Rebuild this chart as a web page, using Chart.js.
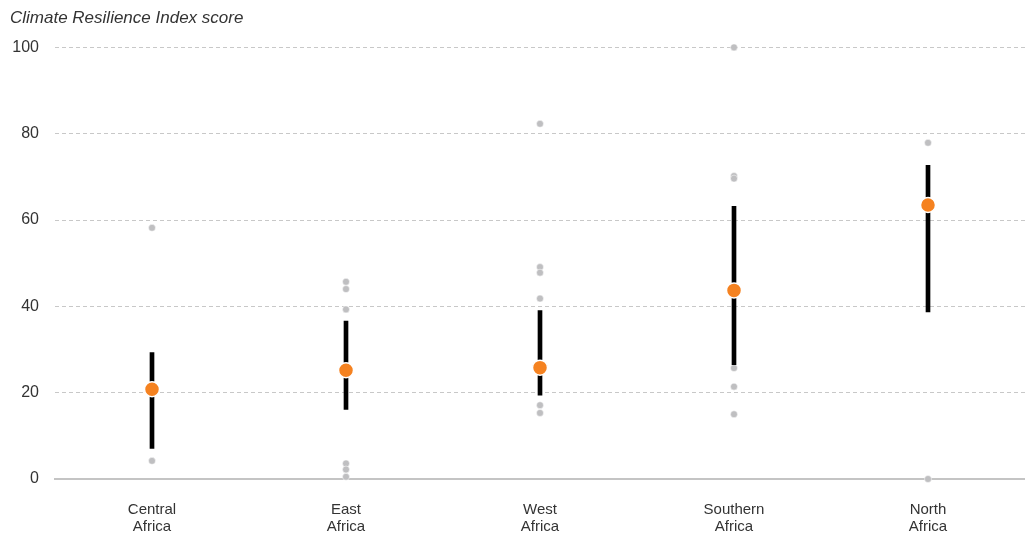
<!DOCTYPE html>
<html>
<head>
<meta charset="utf-8">
<script src="https://cdn.jsdelivr.net/npm/chart.js@4"></script>
<style>
  html, body { margin: 0; padding: 0; background: #fff; }
  #wrap { width: 1025px; height: 537px; }
</style>
</head>
<body>
<div id="wrap"><canvas id="chart"></canvas></div>
<script>
const categories = ['Central Africa', 'East Africa', 'West Africa', 'Southern Africa', 'North Africa'];
const rangeLow = [7.1, 16.1, 19.4, 26.5, 38.7];
const rangeHigh = [29.3, 36.6, 39.0, 63.2, 72.7];
const medians = [20.8, 25.2, 25.8, 43.7, 63.5];
const centralScores = [58.2, 4.2];
const eastScores = [45.7, 44.0, 39.3, 3.6, 2.2, 0.5];
const westScores = [82.3, 49.1, 47.8, 41.8, 17.1, 15.3];
const southernScores = [100, 70.2, 69.6, 25.7, 21.4, 15.0];
const northScores = [77.9, 0];
const yTicks = [0, 20, 40, 60, 80, 100];

const FONT = "'Liberation Sans', Arial, sans-serif";

const countryPoints = [];
[centralScores, eastScores, westScores, southernScores, northScores].forEach((arr, i) => {
  arr.forEach(v => countryPoints.push({ x: categories[i], y: v }));
});

const ctx = document.getElementById('chart').getContext('2d');
new Chart(ctx, {
  data: {
    labels: categories,
    datasets: [
      {
        type: 'line',
        data: medians.map((v, i) => ({ x: categories[i], y: v })),
        showLine: false,
        clip: false,
        pointRadius: 7.5,
        pointBackgroundColor: '#f58220',
        pointBorderColor: '#ffffff',
        pointBorderWidth: 1.5,
        order: 0
      },
      {
        type: 'bar',
        data: rangeLow.map((v, i) => [v, rangeHigh[i]]),
        backgroundColor: '#000000',
        barThickness: 4,
        order: 1
      },
      {
        type: 'line',
        data: countryPoints,
        showLine: false,
        clip: false,
        pointRadius: 3.5,
        pointBackgroundColor: '#bfbfc1',
        pointBorderColor: '#ffffff',
        pointBorderWidth: 0.5,
        order: 2
      }
    ]
  },
  options: {
    responsive: true,
    maintainAspectRatio: false,
    animation: false,
    layout: { autoPadding: false, padding: { left: 10, right: 0, top: 0, bottom: 0 } },
    plugins: {
      legend: { display: false },
      tooltip: { enabled: false },
      title: {
        display: true,
        text: 'Climate Resilience Index score',
        align: 'start',
        color: '#333333',
        font: { family: FONT, size: 17, style: 'italic', weight: 'normal' },
        padding: { top: 8, bottom: 19 }
      }
    },
    scales: {
      x: {
        afterFit: axis => { axis.height = 58; },
        grid: { display: false },
        border: { display: true, color: '#c4c4c4', width: 2 },
        ticks: {
          color: '#333333',
          font: { family: FONT, size: 15, lineHeight: 1.15 },
          padding: 14,
          maxRotation: 0,
          callback: function (v) { return this.getLabelForValue(v).split(' '); }
        }
      },
      y: {
        min: 0,
        max: 100,
        afterFit: axis => { axis.width = 45; },
        afterBuildTicks: axis => { axis.ticks = yTicks.map(v => ({ value: v })); },
        grid: {
          drawTicks: false,
          color: c => c.tick && c.tick.value === 0 ? 'rgba(0,0,0,0)' : '#c8c8c8',
          lineWidth: 1
        },
        border: { display: false, dash: [4, 3] },
        ticks: {
          color: '#333333',
          font: { family: FONT, size: 16 },
          padding: 16
        }
      }
    }
  }
});
</script>
</body>
</html>
